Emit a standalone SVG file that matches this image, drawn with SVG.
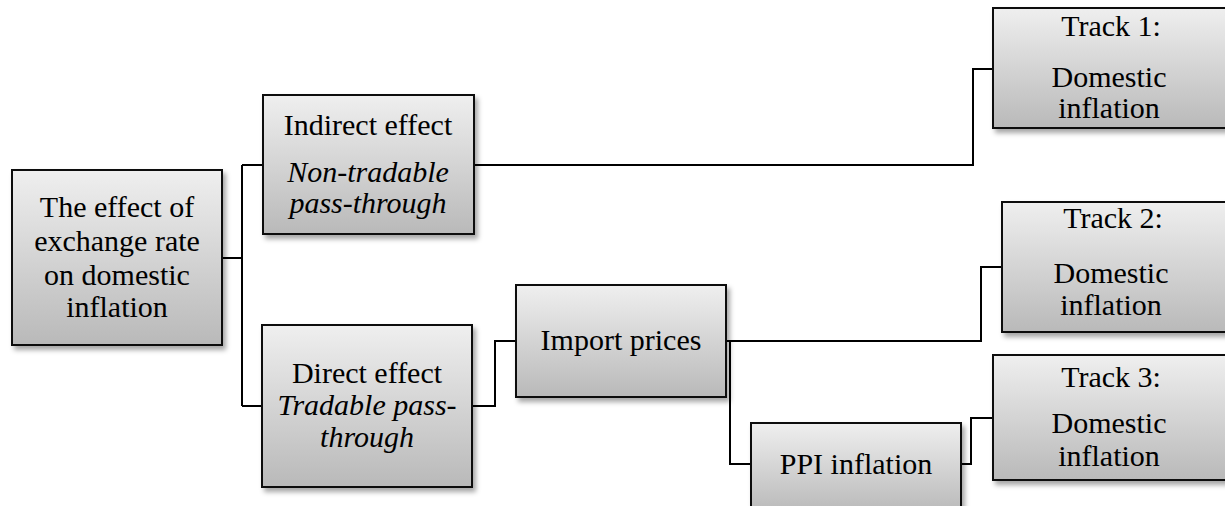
<svg xmlns="http://www.w3.org/2000/svg" width="1225" height="506" viewBox="0 0 1225 506">
<defs>
<linearGradient id="g" x1="0" y1="0" x2="0" y2="1">
<stop offset="0" stop-color="#efefef"/>
<stop offset="1" stop-color="#b9b9b9"/>
</linearGradient>
<filter id="sh" x="-10%" y="-10%" width="130%" height="140%">
<feDropShadow dx="3" dy="4" stdDeviation="2.5" flood-color="#000" flood-opacity="0.35"/>
</filter>
</defs>
<style>
.box{fill:url(#g);stroke:#111;stroke-width:2;filter:url(#sh)}
.t{font-size:30px;fill:#000;text-anchor:middle}
.i{font-style:italic}
.c{fill:none;stroke:#000;stroke-width:2}
</style>
<g id="connectors">
<path class="c" d="M222,258 H242 M242,165 V406 M242,165 H263 M242,406 H262"/>
<path class="c" d="M474,165 H973 V69 H993"/>
<path class="c" d="M472,406 H495 V341 H516"/>
<path class="c" d="M726,341 H981 V267 H1002"/>
<path class="c" d="M726,341 H730 V464 H751"/>
<path class="c" d="M961,464 H971 V418 H993"/>
</g>
<g font-family="Liberation Serif, Times New Roman, DejaVu Serif, serif">
<g id="root">
<rect class="box" x="12" y="170" width="210" height="175"/>
<text class="t" x="117" y="217">The effect of</text>
<text class="t" x="117" y="251">exchange rate</text>
<text class="t" x="117" y="285">on domestic</text>
<text class="t" x="117" y="317">inflation</text>
</g>
<g id="indirect">
<rect class="box" x="263" y="95" width="211" height="139"/>
<text class="t" x="368" y="135">Indirect effect</text>
<text class="t i" x="368" y="182">Non-tradable</text>
<text class="t i" x="368" y="213">pass-through</text>
</g>
<g id="direct">
<rect class="box" x="262" y="325" width="210" height="162"/>
<text class="t" x="367" y="383">Direct effect</text>
<text class="t i" x="367" y="415">Tradable pass-</text>
<text class="t i" x="367" y="447">through</text>
</g>
<g id="import">
<rect class="box" x="516" y="285" width="210" height="112"/>
<text class="t" x="621" y="350">Import prices</text>
</g>
<g id="ppi">
<rect class="box" x="751" y="423" width="210" height="90"/>
<text class="t" x="856" y="474">PPI inflation</text>
</g>
<g id="track1">
<rect class="box" x="993" y="8" width="240" height="120"/>
<text class="t" x="1111" y="36">Track 1:</text>
<text class="t" x="1109" y="87">Domestic</text>
<text class="t" x="1109" y="118">inflation</text>
</g>
<g id="track2">
<rect class="box" x="1002" y="202" width="232" height="130"/>
<text class="t" x="1113" y="228">Track 2:</text>
<text class="t" x="1111" y="283">Domestic</text>
<text class="t" x="1111" y="315">inflation</text>
</g>
<g id="track3">
<rect class="box" x="993" y="355" width="240" height="125"/>
<text class="t" x="1111" y="387">Track 3:</text>
<text class="t" x="1109" y="433">Domestic</text>
<text class="t" x="1109" y="466">inflation</text>
</g>
</g>
</svg>
